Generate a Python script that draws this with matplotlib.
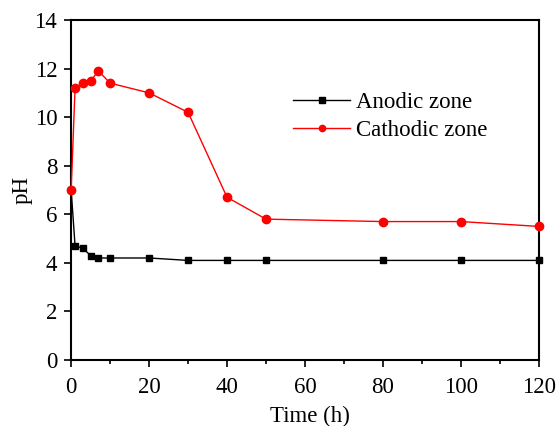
import matplotlib
matplotlib.use("Agg")
import matplotlib.pyplot as plt
from matplotlib.ticker import MultipleLocator

time_h = [0, 1, 3, 5, 7, 10, 20, 30, 40, 50, 80, 100, 120]
ph_anodic = [7.0, 4.7, 4.6, 4.3, 4.2, 4.2, 4.2, 4.1, 4.1, 4.1, 4.1, 4.1, 4.1]
ph_cathodic = [7.0, 11.2, 11.4, 11.5, 11.9, 11.4, 11.0, 10.2, 6.7, 5.8, 5.7, 5.7, 5.5]

plt.rcParams["font.family"] = ["Liberation Serif", "DejaVu Serif"]

fig = plt.figure(figsize=(5.56, 4.26), dpi=100)
ax = fig.add_axes([0.128, 0.155, 0.841, 0.798])

ax.plot(time_h, ph_anodic, color="black", marker="s", markersize=5,
        linewidth=1.0, label="Anodic zone", clip_on=False, zorder=3)
ax.plot(time_h, ph_cathodic, color="red", marker="o", markersize=6,
        linewidth=1.0, label="Cathodic zone", clip_on=False, zorder=3)

ax.set_xlim(0, 120)
ax.set_ylim(0, 14)
ax.xaxis.set_major_locator(MultipleLocator(20))
ax.xaxis.set_minor_locator(MultipleLocator(10))
ax.yaxis.set_major_locator(MultipleLocator(2))

ax.tick_params(axis="both", which="major", direction="out", length=5, width=1.2,
               labelsize=16.5)
ax.tick_params(axis="x", which="major", pad=7)
ax.tick_params(axis="y", which="major", pad=5)
ax.tick_params(axis="x", which="minor", direction="out", length=3, width=1.2)
for s in ax.spines.values():
    s.set_linewidth(1.5)

ax.set_xlabel("Time (h)", fontsize=16.5)
ax.set_ylabel("pH", fontsize=16.5)
ax.xaxis.set_label_coords(0.51, -0.135)
ax.yaxis.set_label_coords(-0.082, 0.5)

ax.legend(loc="upper left", bbox_to_anchor=(0.44, 0.835), frameon=False,
          fontsize=16.5, handlelength=2.5, handletextpad=0.25, labelspacing=0.3,
          markerscale=0.75, borderpad=0.2)

fig.savefig("out.png", dpi=100)
